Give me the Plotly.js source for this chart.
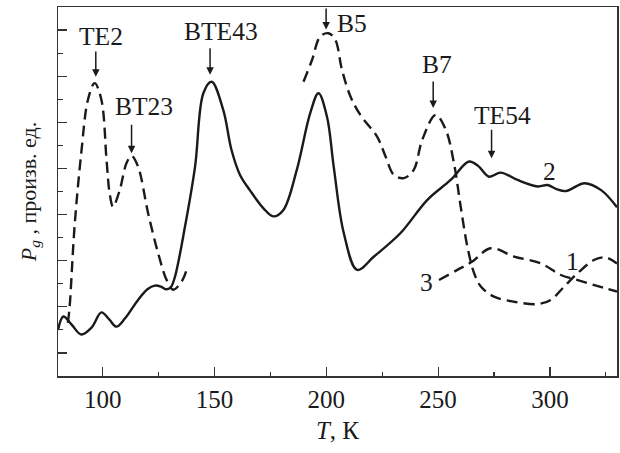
<!DOCTYPE html>
<html>
<head>
<meta charset="utf-8">
<script src="https://cdn.plot.ly/plotly-3.0.1.min.js"></script>
<style>html,body{margin:0;padding:0;background:#fff}</style>
</head>
<body>
<div id="chart" style="width:620px;height:453px"></div>
<script>
// Curve 2 (solid)
const t2 = [80, 82.4, 86, 90.4, 95, 99.4, 103, 106.1, 110, 115.8, 120, 123.3, 126, 128.5, 130.5, 132.3, 136.8, 141.3, 145.0, 148.7, 153.9, 157.6, 161.4, 165.8, 171.8, 176.3, 180.8, 186.8, 192.8, 196.5, 200.3, 203.3, 207.8, 213.8, 221.3, 233.2, 245.2, 255.6, 263.8, 268, 272.8, 278.0, 285.5, 294.5, 299.0, 303, 307.2, 315.5, 322.9, 330];
const p2 = [1.0, 1.29, 1.12, 0.90, 1.05, 1.38, 1.22, 1.07, 1.25, 1.65, 1.88, 1.96, 1.94, 1.88, 1.93, 2.15, 3.24, 4.54, 6.13, 6.38, 5.77, 4.90, 4.36, 4.03, 3.64, 3.46, 3.60, 4.47, 5.70, 6.13, 5.62, 4.54, 3.10, 2.30, 2.59, 3.10, 3.82, 4.25, 4.65, 4.55, 4.32, 4.41, 4.25, 4.11, 4.14, 4.05, 4.01, 4.18, 4.03, 3.66];

// Curve 1 (dashed), two pieces separated by a gap
const t1 = [84.4, 85.2, 87.4, 90.4, 93.4, 96.4, 99.4, 101.7, 103.1, 104.6, 107.6, 110.6, 112.9, 115.8, 120.3, 124.8, 128.6, 131.5, 135.3, 137.5,
            null,
            189.8, 193.6, 197.3, 201.0, 204.0, 207.0, 210.8, 215.2, 222.7, 226.5, 230.2, 234.7, 239.1, 242.9, 248.9, 253.4, 257.1, 260.1, 263.1, 266.1, 269.1, 275.0, 284.0, 294.5, 300.4, 306.4, 312.4, 319.9, 325, 330];
const p1 = [1.15, 1.50, 3.24, 4.83, 5.99, 6.35, 5.99, 4.69, 3.96, 3.67, 4.03, 4.61, 4.77, 4.54, 3.53, 2.66, 2.08, 1.87, 2.05, 2.30,
            null,
            6.38, 6.85, 7.36, 7.43, 7.29, 6.64, 6.06, 5.66, 5.19, 4.76, 4.36, 4.29, 4.47, 5.12, 5.66, 5.34, 4.61, 3.67, 2.80, 2.23, 1.94, 1.72, 1.61, 1.56, 1.65, 1.94, 2.23, 2.52, 2.57, 2.44];

// Curve 3 (dashed)
const t3 = [250.4, 258.6, 265.3, 273.5, 284.0, 295.9, 304.9, 310.9, 319.9, 330];
const p3 = [2.08, 2.30, 2.48, 2.77, 2.59, 2.44, 2.19, 2.10, 1.97, 1.83];

// Peak labels
const peakNames = ["TE2", "BT23", "BTE43", "B5", "B7", "TE54"];
const peakT     = [96.9, 112.9, 148.0, 199.9, 247.8, 273.9];
const peakTip   = [6.49, 4.83, 6.53, 7.51, 5.81, 4.72];
const peakTail  = [7.07, 5.48, 7.14, 8.0, 6.42, 5.37];
const labelT    = [99.3, 118.3, 153.0, 211.5, 249.6, 278.6];
const labelP    = [7.35, 5.85, 7.47, 7.65, 6.75, 5.65];

// Curve numbers
const curveNames = ["1", "2", "3"];
const curveT = [310.2, 299.7, 244.8];
const curveP = [2.48, 4.43, 2.02];

const serif = "'Liberation Serif'";
const dashStyle = "11px,6px";
const ink = "#1a1a1a";

const traces = [
  {x: t2, y: p2, mode: "lines", line: {color: ink, width: 2.4, shape: "spline", smoothing: 1}, hoverinfo: "skip"},
  {x: t1, y: p1, mode: "lines", connectgaps: false, line: {color: ink, width: 2.4, dash: dashStyle, shape: "spline", smoothing: 1}, hoverinfo: "skip"},
  {x: t3, y: p3, mode: "lines", line: {color: ink, width: 2.4, dash: dashStyle, shape: "spline", smoothing: 1}, hoverinfo: "skip"}
];

const annotations = [];
for (let i = 0; i < peakNames.length; i++) {
  annotations.push({
    x: peakT[i], y: peakTip[i], xref: "x", yref: "y",
    ax: peakT[i], ay: peakTail[i], axref: "x", ayref: "y",
    text: "", showarrow: true, arrowhead: 2, arrowsize: 1, arrowwidth: 1.5, arrowcolor: ink
  });
  annotations.push({
    x: labelT[i], y: labelP[i], xref: "x", yref: "y",
    text: peakNames[i], showarrow: false,
    font: {family: serif, size: 25.5, color: ink}
  });
}
for (let i = 0; i < curveNames.length; i++) {
  annotations.push({
    x: curveT[i], y: curveP[i], xref: "x", yref: "y",
    text: curveNames[i], showarrow: false,
    font: {family: serif, size: 25.5, color: ink}
  });
}

const layout = {
  width: 620, height: 453,
  margin: {l: 58, r: 3, t: 7, b: 77},
  paper_bgcolor: "#fff", plot_bgcolor: "#fff",
  showlegend: false,
  font: {family: serif, color: ink},
  xaxis: {
    range: [80, 330], tick0: 100, dtick: 50,
    ticks: "inside", ticklen: 9, tickwidth: 1.2, tickcolor: "#333",
    minor: {ticks: "inside", ticklen: 4, dtick: 25, tick0: 100, tickcolor: "#333", tickwidth: 1.2},
    showgrid: false, zeroline: false,
    showline: true, linecolor: "#333", linewidth: 1.5, mirror: true,
    tickfont: {family: serif, size: 25, color: ink},
    title: {text: "<i>T</i>, К", font: {family: serif, size: 25, color: ink}, standoff: 10}
  },
  yaxis: {
    range: [0, 8], tick0: 0.5, dtick: 1,
    ticks: "inside", ticklen: 9, tickwidth: 1.2, tickcolor: "#333",
    minor: {ticks: "inside", ticklen: 5, dtick: 1, tick0: 0, tickcolor: "#333", tickwidth: 1.2},
    showticklabels: false,
    showgrid: false, zeroline: false,
    showline: true, linecolor: "#333", linewidth: 1.5, mirror: true,
    title: {text: "<i>P</i><sub><i>g</i></sub> , произв. ед.", font: {family: serif, size: 22, color: ink}, standoff: 14}
  },
  annotations: annotations
};

Plotly.newPlot("chart", traces, layout, {staticPlot: true, displayModeBar: false});
</script>
</body>
</html>
